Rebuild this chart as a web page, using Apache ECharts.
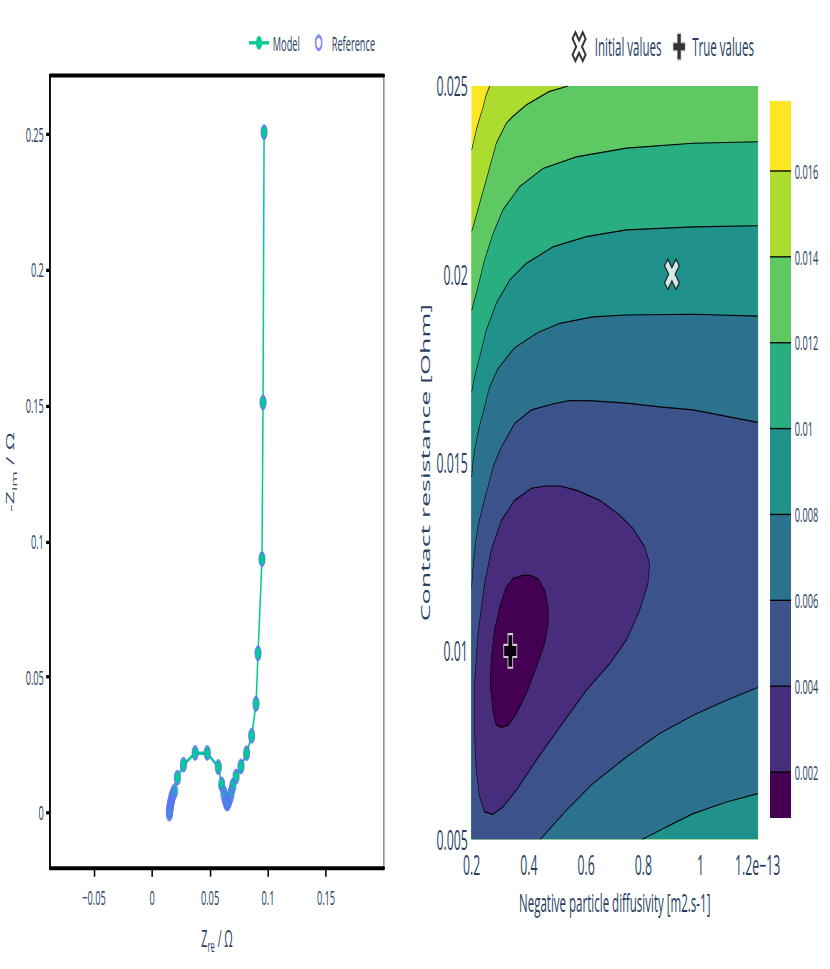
<!DOCTYPE html>
<html>
<head>
<meta charset="utf-8">
<script src="https://cdn.jsdelivr.net/npm/echarts@6.0.0/dist/echarts.min.js"></script>
<style>
html,body{margin:0;padding:0;background:#fff;}
#wrap{width:830px;height:969px;overflow:hidden;position:relative;background:#fff;}
#chart{width:1080px;height:577px;transform:scale(0.768519,1.679376);transform-origin:0 0;}
</style>
</head>
<body>
<div id="wrap"><div id="chart"></div></div>
<script>
// ---------- Left panel: Nyquist plot ----------
const zreTicks = [-0.05, 0, 0.05, 0.1, 0.15];
const zimTicks = [0, 0.05, 0.1, 0.15, 0.2, 0.25];
const zreRange = [-0.088, 0.2];
const zimRange = [-0.0205, 0.2715];

const modelRe = [0.0151,0.0155,0.0161,0.0168,0.0177,0.0192,0.0218,0.0270,0.0371,0.0477,0.0572,0.0601,0.0621,0.0634,0.0644,0.0659,0.0672,0.0681,0.0696,0.0724,0.0767,0.0816,0.0859,0.0897,0.0914,0.0948,0.0957,0.0966];
const modelIm = [0.0000,0.0011,0.0026,0.0040,0.0059,0.0078,0.0128,0.0176,0.0219,0.0219,0.0167,0.0103,0.0074,0.0052,0.0037,0.0044,0.0059,0.0074,0.0100,0.0133,0.0170,0.0219,0.0284,0.0401,0.0587,0.0934,0.1511,0.2507];

const refRe = [0.0149,0.0151,0.0153,0.0156,0.0160,0.0165,0.0172,0.0181,0.0194,0.0219,0.0271,0.0372,0.0476,0.0571,0.0600,0.0619,0.0630,0.0638,0.0644,0.0652,0.0662,0.0673,0.0682,0.0697,0.0725,0.0767,0.0815,0.0859,0.0896,0.0914,0.0948,0.0957,0.0966];
const refIm = [-0.0004,0.0004,0.0013,0.0022,0.0033,0.0045,0.0057,0.0068,0.0080,0.0129,0.0177,0.0220,0.0220,0.0168,0.0104,0.0070,0.0054,0.0042,0.0034,0.0035,0.0044,0.0058,0.0073,0.0099,0.0133,0.0170,0.0219,0.0283,0.0401,0.0587,0.0934,0.1511,0.2507];

// ---------- Right panel: cost landscape (contours) ----------
// diffusivity values in units of 1e-13 m2.s-1
const diffTicks = [0.2, 0.4, 0.6, 0.8, 1, 1.2];
const resTicks = [0.005, 0.01, 0.015, 0.02, 0.025];
const diffRange = [0.2, 1.2];
const resRange = [0.005, 0.025];
const levels = [0.002, 0.004, 0.006, 0.008, 0.010, 0.012, 0.014, 0.016];
const levelColors = ['#440154','#472d7b','#3b528b','#2c728e','#21918c','#28ae80','#5ec962','#addc30','#fde725'];
const colorbarRange = [0.00093, 0.01763];

const c016 = [[0.263,0.0250],[0.250,0.02475],[0.240,0.02445],[0.228,0.02415],[0.216,0.02383],[0.2,0.02330]];
const c014 = [[0.537,0.0250],[0.470,0.02485],[0.391,0.02450],[0.345,0.02420],[0.321,0.02401],[0.286,0.02348],[0.257,0.02268],[0.228,0.02189],[0.205,0.02126],[0.2,0.02115]];
const c012 = [[1.2,0.02352],[0.974,0.02348],[0.741,0.02335],[0.566,0.02312],[0.449,0.02281],[0.368,0.02233],[0.309,0.02171],[0.275,0.02109],[0.245,0.02038],[0.222,0.01967],[0.2,0.01905]];
const c010 = [[1.2,0.02129],[0.974,0.02126],[0.741,0.02118],[0.601,0.02100],[0.484,0.02073],[0.391,0.02029],[0.333,0.01985],[0.286,0.01923],[0.251,0.01852],[0.228,0.01781],[0.210,0.01728],[0.2,0.01688]];
const c008Upper = [[1.2,0.01889],[0.974,0.01894],[0.741,0.01892],[0.624,0.01887],[0.508,0.01870],[0.43,0.01845],[0.35,0.01805],[0.292,0.01750],[0.262,0.01700],[0.245,0.01648],[0.225,0.01590],[0.210,0.01533],[0.203,0.01495],[0.2,0.01462]];
const c008Lower = [[0.797,0.005],[0.881,0.005328],[0.974,0.005683],[1.091,0.005991],[1.2,0.006214]];
const c006Upper = [[1.2,0.01607],[0.974,0.01640],[0.857,0.01648],[0.741,0.01658],[0.624,0.01664],[0.543,0.01665],[0.49,0.01657],[0.409,0.01640],[0.350,0.01604],[0.304,0.01542],[0.275,0.01490],[0.257,0.01436],[0.238,0.01383],[0.222,0.01330],[0.211,0.01275],[0.205,0.01223],[0.2,0.01170]];
const c006Lower = [[0.440,0.005],[0.531,0.005771],[0.624,0.00648],[0.741,0.007186],[0.857,0.007808],[0.974,0.008294],[1.091,0.008692],[1.2,0.00903]];
const c004 = [[0.461,0.01438],[0.409,0.01432],[0.350,0.01400],[0.304,0.01347],[0.269,0.01270],[0.245,0.01179],[0.222,0.01046],[0.210,0.00914],[0.210,0.00781],[0.216,0.00683],[0.228,0.00612],[0.245,0.00573],[0.274,0.00566],[0.309,0.00586],[0.356,0.00630],[0.426,0.00710],[0.508,0.00798],[0.601,0.00896],[0.683,0.00967],[0.741,0.01029],[0.787,0.01108],[0.816,0.01179],[0.822,0.01232],[0.805,0.01276],[0.764,0.01325],[0.717,0.01361],[0.648,0.01400],[0.566,0.01427],[0.508,0.01438]];
const c002 = [[0.379,0.01201],[0.344,0.01192],[0.321,0.01170],[0.298,0.01117],[0.280,0.01055],[0.269,0.00984],[0.265,0.00914],[0.274,0.00843],[0.286,0.00803],[0.304,0.00797],[0.327,0.00803],[0.356,0.00834],[0.391,0.00887],[0.426,0.00958],[0.455,0.01020],[0.467,0.01073],[0.467,0.01117],[0.455,0.01161],[0.432,0.01192],[0.403,0.01201]];

const initialDiff = [0.9], initialRes = [0.02];
const trueDiff = [0.335], trueRes = [0.01];

// ---------- build ----------
const font = '"Open Sans", "Liberation Sans", sans-serif';
const txt = '#2a3f5f';
const fmt = v => String(+Number(v).toPrecision(6)).replace('-', '\u2212');
const zip = (a, b) => a.map((v, i) => [v, b[i]]);

const x0 = diffRange[0], x1 = diffRange[1], y0 = resRange[0], y1 = resRange[1];
const fillRegions = [
  {color: levelColors[8], pts: [[x0,y0],[x1,y0],[x1,y1],[x0,y1]]},
  {color: levelColors[7], pts: c016.concat([[x0,y0],[x1,y0],[x1,y1]])},
  {color: levelColors[6], pts: c014.concat([[x0,y0],[x1,y0],[x1,y1]])},
  {color: levelColors[5], pts: c012.concat([[x0,y0],[x1,y0]])},
  {color: levelColors[4], pts: c010.concat([[x0,y0],[x1,y0]])},
  {color: levelColors[3], pts: c008Upper.concat([[x0,y0]], c008Lower)},
  {color: levelColors[2], pts: c006Upper.concat([[x0,y0]], c006Lower)},
  {color: levelColors[1], pts: c004},
  {color: levelColors[0], pts: c002}
];
const contourLines = [c016, c014, c012, c010, c008Upper, c008Lower, c006Upper, c006Lower, c004.concat([c004[0]]), c002.concat([c002[0]])];
const cbBounds = [colorbarRange[0]].concat(levels, [colorbarRange[1]]);

const xPath = 'path://M0,22L22,0L50,28L78,0L100,22L72,50L100,78L78,100L50,72L22,100L0,78L28,50Z';
const crossPath = 'path://M32,0H68V32H100V68H68V100H32V68H0V32H32Z';

const series = [
  {
    name: 'Model', type: 'line', xAxisIndex: 0, yAxisIndex: 0,
    data: zip(modelRe, modelIm), symbol: 'circle', symbolSize: 8, showSymbol: true,
    lineStyle: {color: '#00cc96', width: 2}, itemStyle: {color: '#00cc96'}, z: 3
  },
  {
    name: 'Reference', type: 'scatter', xAxisIndex: 0, yAxisIndex: 0,
    data: zip(refRe, refIm), symbol: 'circle', symbolSize: 8,
    itemStyle: {color: 'rgba(0,0,0,0)', borderColor: '#636efa', borderWidth: 1.4}, z: 4
  },
  {
    type: 'custom', xAxisIndex: 2, yAxisIndex: 2, silent: true, clip: true, z: 1,
    data: fillRegions.map((r, i) => [x0, y0, i]), encode: {x: 0, y: 1},
    renderItem: (params, api) => {
      const r = fillRegions[api.value(2)];
      return {type: 'polygon', shape: {points: r.pts.map(p => api.coord(p))},
        style: {fill: r.color, stroke: r.color, lineWidth: 0.4}};
    }
  }
];
contourLines.forEach(c => series.push({
  type: 'line', xAxisIndex: 2, yAxisIndex: 2, data: c, symbol: 'none', silent: true, clip: true,
  lineStyle: {color: '#000', width: 0.7}, z: 2
}));
series.push({
  name: 'Initial values', type: 'scatter', xAxisIndex: 2, yAxisIndex: 2,
  data: zip(initialDiff, initialRes), symbol: xPath, symbolSize: [19, 18],
  itemStyle: {color: '#ffffff', borderColor: '#000', borderWidth: 1.2}, z: 5
});
series.push({
  name: 'True values', type: 'scatter', xAxisIndex: 2, yAxisIndex: 2,
  data: zip(trueDiff, trueRes), symbol: crossPath, symbolSize: [17, 20],
  itemStyle: {color: '#000', borderColor: '#fff', borderWidth: 1.2}, z: 5
});
series.push({
  type: 'custom', xAxisIndex: 3, yAxisIndex: 3, silent: true,
  data: cbBounds.slice(0, -1).map((lo, i) => [0, lo, cbBounds[i + 1], i]), encode: {x: 0, y: [1, 2]},
  renderItem: (params, api) => {
    const lo = api.value(1), hi = api.value(2), i = api.value(3);
    const p0 = api.coord([0, lo]), p1 = api.coord([1, hi]);
    const ch = [{type: 'rect', shape: {x: p0[0], y: p1[1], width: p1[0] - p0[0], height: p0[1] - p1[1]},
      style: {fill: levelColors[i]}}];
    if (i > 0) ch.push({type: 'line', shape: {x1: p0[0], y1: p0[1], x2: p1[0], y2: p0[1]},
      style: {stroke: '#000', lineWidth: 0.8}, z2: 10});
    return {type: 'group', children: ch};
  }
});

const legendBase = {orient: 'horizontal', padding: 0, selectedMode: false, itemGap: 0,
  textStyle: {fontFamily: font, color: txt, fontSize: 12}};

const option = {
  animation: false,
  backgroundColor: '#ffffff',
  textStyle: {fontFamily: font},
  grid: [
    {left: 65.06, top: 45.08, width: 434.6, height: 471.96, containLabel: false, outerBoundsMode: 'none'},
    {left: 613.78, top: 51.21, width: 372.14, height: 448.56, containLabel: false, outerBoundsMode: 'none'},
    {left: 1001.93, top: 60.14, width: 27.33, height: 426.95, containLabel: false, outerBoundsMode: 'none'}
  ],
  legend: [
    Object.assign({}, legendBase, {data: ['Model'], left: 323, top: 19.5, itemWidth: 26, itemHeight: 10}),
    Object.assign({}, legendBase, {data: ['Reference'], left: 409.7, top: 19.5, itemWidth: 24, itemHeight: 8}),
    Object.assign({}, legendBase, {data: ['Initial values'], left: 744, top: 18.3, itemWidth: 31, itemHeight: 17,
      textStyle: {fontFamily: font, color: txt, fontSize: 15}}),
    Object.assign({}, legendBase, {data: ['True values'], left: 874.2, top: 18.3, itemWidth: 24, itemHeight: 17,
      textStyle: {fontFamily: font, color: txt, fontSize: 15}})
  ],
  xAxis: [
    {gridIndex: 0, type: 'value', min: zreRange[0], max: zreRange[1],
      axisLine: {show: true, onZero: false, lineStyle: {color: '#000', width: 2.4}},
      axisTick: {show: true, inside: false, length: 5, customValues: zreTicks, lineStyle: {color: '#000', width: 2}},
      axisLabel: {customValues: zreTicks, formatter: fmt, color: txt, fontSize: 12, margin: 11, fontFamily: font},
      splitLine: {show: false},
      name: 'Z{sub|re} / Ω', nameLocation: 'middle', nameGap: 31,
      nameTextStyle: {color: txt, fontSize: 14, fontFamily: font, lineHeight: 20, verticalAlign: 'top',
        rich: {sub: {fontSize: 10, lineHeight: 10, verticalAlign: 'bottom', color: txt, fontFamily: font}}}},
    {gridIndex: 0, type: 'value', position: 'top', min: zreRange[0], max: zreRange[1],
      axisLine: {show: true, onZero: false, lineStyle: {color: '#000', width: 2.4}},
      axisTick: {show: false}, axisLabel: {show: false}, splitLine: {show: false}},
    {gridIndex: 1, type: 'value', min: diffRange[0], max: diffRange[1],
      axisLine: {show: false}, axisTick: {show: false}, splitLine: {show: false},
      axisLabel: {customValues: diffTicks, color: txt, fontSize: 16, margin: 7, fontFamily: font,
        formatter: v => (v === diffTicks[diffTicks.length - 1] ? fmt(v) + 'e\u221213' : fmt(v))},
      name: 'Negative particle diffusivity [m2.s-1]', nameLocation: 'middle', nameGap: 30,
      nameTextStyle: {color: txt, fontSize: 15, fontFamily: font}},
    {gridIndex: 2, type: 'value', min: 0, max: 1, show: false}
  ],
  yAxis: [
    {gridIndex: 0, type: 'value', min: zimRange[0], max: zimRange[1],
      axisLine: {show: true, onZero: false, lineStyle: {color: '#000', width: 2.4}},
      axisTick: {show: true, inside: false, length: 5, customValues: zimTicks, lineStyle: {color: '#000', width: 2}},
      axisLabel: {customValues: zimTicks, formatter: fmt, color: txt, fontSize: 12, margin: 8, fontFamily: font},
      splitLine: {show: false},
      name: '-Z{sub|im} / Ω', nameLocation: 'middle', nameGap: 42, nameRotate: 90,
      nameTextStyle: {color: txt, fontSize: 14, fontFamily: font, lineHeight: 20,
        rich: {sub: {fontSize: 10, lineHeight: 10, verticalAlign: 'bottom', color: txt, fontFamily: font}}}},
    {gridIndex: 0, type: 'value', position: 'right', min: zimRange[0], max: zimRange[1],
      axisLine: {show: true, onZero: false, lineStyle: {color: '#555', width: 1.3}},
      axisTick: {show: false}, axisLabel: {show: false}, splitLine: {show: false}},
    {gridIndex: 1, type: 'value', min: resRange[0], max: resRange[1],
      axisLine: {show: false}, axisTick: {show: false}, splitLine: {show: false},
      axisLabel: {customValues: resTicks, formatter: fmt, color: txt, fontSize: 16, margin: 5, fontFamily: font},
      name: 'Contact resistance [Ohm]', nameLocation: 'middle', nameGap: 52, nameRotate: 90,
      nameTextStyle: {color: txt, fontSize: 16, fontFamily: font}},
    {gridIndex: 2, type: 'value', position: 'right', min: colorbarRange[0], max: colorbarRange[1],
      axisLine: {show: false}, axisTick: {show: false}, splitLine: {show: false},
      axisLabel: {customValues: levels, formatter: fmt, color: txt, fontSize: 12, margin: 5, fontFamily: font}}
  ],
  series: series
};

const chart = echarts.init(document.getElementById('chart'), null, {renderer: 'svg', width: 1080, height: 577});
chart.setOption(option);
</script>
</body>
</html>
